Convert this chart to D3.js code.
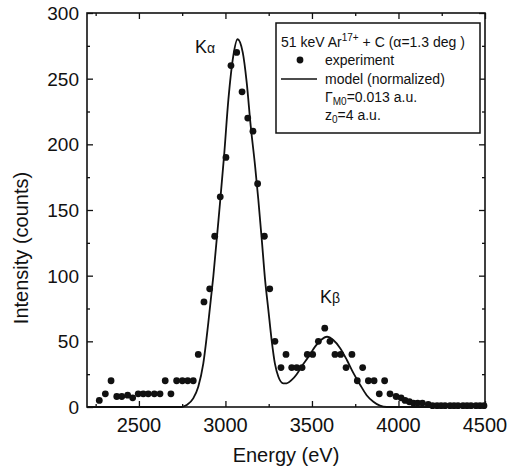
<!DOCTYPE html>
<html>
<head>
<meta charset="utf-8">
<script src="https://cdn.jsdelivr.net/npm/d3@7"></script>
<style>
  body { margin: 0; background: #fff; }
  text { font-family: Arial, "Liberation Sans", sans-serif; fill: #111; }
</style>
</head>
<body>
<script>
// measured points (energy in eV, intensity in counts)
var expEnergy = [2271, 2306, 2339, 2372, 2401, 2435, 2464, 2496, 2525, 2554, 2589, 2622, 2652, 2685, 2718, 2751, 2782, 2814, 2843,
  2876, 2909, 2938, 2970, 3003, 3032, 3065, 3096, 3129, 3159, 3186, 3225, 3256, 3286, 3321, 3350, 3383, 3412, 3443, 3473,
  3504, 3537, 3574, 3604, 3633, 3666, 3697, 3731, 3762, 3793, 3826, 3859, 3889, 3920, 3951,
  3986, 4015, 4038, 4063, 4086, 4111, 4138, 4172, 4197, 4223, 4246, 4269, 4298, 4321, 4344, 4373, 4396, 4419, 4448, 4471, 4494];
var expCounts = [5, 10, 20, 8, 8, 9, 7, 10, 10, 10, 10, 10, 20, 10, 20, 20, 20, 20, 40,
  80, 90, 130, 160, 190, 260, 270, 240, 220, 210, 170, 130, 90, 50, 30, 40, 30, 30, 30, 40,
  40, 50, 60, 50, 40, 40, 30, 40, 20, 30, 20, 20, 10, 20, 10,
  8, 7, 5, 4, 3, 3, 3, 2, 1, 1, 1, 1, 1, 1, 1, 1, 1, 1, 1, 1, 1];

// model curve
var modelEnergy = [2200, 2700, 2747, 2776, 2814, 2843, 2872, 2901, 2930, 2965, 2992, 3017, 3045, 3070, 3100, 3123, 3146, 3171,
  3190, 3210, 3229, 3248, 3267, 3286, 3306, 3334, 3354, 3383, 3412, 3441, 3479, 3518, 3552, 3587, 3623, 3662,
  3701, 3739, 3778, 3816, 3855, 3893, 3932, 4500];
var modelCounts = [0, 0, 0, 1.5, 6.6, 15.5, 33, 64, 99.5, 150, 191, 234, 267, 280, 270, 247, 214, 184,
  158, 127.5, 97, 74, 51, 33, 23, 18, 18, 20.6, 25, 31, 38, 46, 51, 53.5, 51, 45,
  36, 26, 17, 9, 4, 1, 0, 0];

var xTicks = [2500, 3000, 3500, 4000, 4500];
var xMinor = [2250, 2750, 3250, 3750, 4250];
var yTicks = [0, 50, 100, 150, 200, 250, 300];
var yMinor = [25, 75, 125, 175, 225, 275];

function drawChart() {
  var size = { width: 510, height: 472 };
  var margin = { top: 13, right: 25, bottom: 65, left: 87 };

  var svg = d3.select("body").append("svg")
    .attr("width", size.width)
    .attr("height", size.height);

  var x = d3.scaleLinear().domain([2200, 4500]).range([margin.left, size.width - margin.right]);
  var y = d3.scaleLinear().domain([0, 300]).range([size.height - margin.bottom, margin.top]);

  var x0 = x.range()[0], x1 = x.range()[1], y0 = y.range()[0], y1 = y.range()[1];

  // ticks on all four sides, pointing inward
  function addAxis(axis, tx, ty, vals, len) {
    svg.append("g")
      .attr("transform", "translate(" + tx + "," + ty + ")")
      .call(axis.tickValues(vals).tickSize(len).tickFormat(""))
      .call(function(g) { g.select(".domain").remove(); })
      .selectAll("line").attr("stroke", "#111").attr("stroke-width", 1.3);
  }
  addAxis(d3.axisTop(x), 0, y0, xTicks, 6);
  addAxis(d3.axisTop(x), 0, y0, xMinor, 3);
  addAxis(d3.axisBottom(x), 0, y1, xTicks, 6);
  addAxis(d3.axisBottom(x), 0, y1, xMinor, 3);
  addAxis(d3.axisRight(y), x0, 0, yTicks, 6);
  addAxis(d3.axisRight(y), x0, 0, yMinor, 3);
  addAxis(d3.axisLeft(y), x1, 0, yTicks, 6);
  addAxis(d3.axisLeft(y), x1, 0, yMinor, 3);

  // tick labels
  svg.append("g").selectAll("text")
    .data(xTicks).enter().append("text")
    .attr("x", function(d) { return x(d); })
    .attr("y", y0 + 25)
    .attr("text-anchor", "middle")
    .style("font-size", "20px")
    .text(function(d) { return d; });

  svg.append("g").selectAll("text")
    .data(yTicks).enter().append("text")
    .attr("x", x0 - 8)
    .attr("y", function(d) { return y(d) + 7; })
    .attr("text-anchor", "end")
    .style("font-size", "19px")
    .text(function(d) { return d; });

  // axis titles
  svg.append("text")
    .attr("x", (x0 + x1) / 2)
    .attr("y", 462)
    .attr("text-anchor", "middle")
    .style("font-size", "20px")
    .text("Energy (eV)");

  svg.append("text")
    .attr("transform", "translate(28,248) rotate(-90)")
    .attr("text-anchor", "middle")
    .style("font-size", "20px")
    .text("Intensity (counts)");

  // model line
  var line = d3.line()
    .x(function(d) { return x(d[0]); })
    .y(function(d) { return y(d[1]); })
    .curve(d3.curveMonotoneX);

  svg.append("path")
    .datum(d3.zip(modelEnergy, modelCounts))
    .attr("d", line)
    .attr("fill", "none")
    .attr("stroke", "#111")
    .attr("stroke-width", 1.8);

  // experimental dots
  svg.append("g").selectAll("circle")
    .data(d3.zip(expEnergy, expCounts))
    .enter().append("circle")
    .attr("cx", function(d) { return x(d[0]); })
    .attr("cy", function(d) { return y(d[1]); })
    .attr("r", 3.4)
    .attr("fill", "#111");

  // frame
  svg.append("rect")
    .attr("x", x0).attr("y", y1)
    .attr("width", x1 - x0).attr("height", y0 - y1)
    .attr("fill", "none")
    .attr("stroke", "#111")
    .attr("stroke-width", 1.6);

  // peak labels
  var ka = svg.append("text").attr("x", 195).attr("y", 53).style("font-size", "18px");
  ka.append("tspan").text("K");
  ka.append("tspan").style("font-size", "14px").text("\u03b1");
  var kb = svg.append("text").attr("x", 320).attr("y", 303).style("font-size", "18px");
  kb.append("tspan").text("K");
  kb.append("tspan").style("font-size", "14px").text("\u03b2");

  // legend box
  var lg = svg.append("g");
  lg.append("rect")
    .attr("x", 276).attr("y", 23)
    .attr("width", 204).attr("height", 110)
    .attr("fill", "#fff")
    .attr("stroke", "#111")
    .attr("stroke-width", 1.5);

  var fs = "14px";
  var t1 = lg.append("text").attr("x", 281).attr("y", 47).style("font-size", fs);
  t1.append("tspan").text("51 keV Ar");
  t1.append("tspan").attr("dy", -6).style("font-size", "10px").text("17+");
  t1.append("tspan").attr("dy", 6).text(" + C (\u03b1=1.3 deg  )");

  lg.append("circle").attr("cx", 300).attr("cy", 60).attr("r", 3.4).attr("fill", "#111");
  lg.append("text").attr("x", 325).attr("y", 65).style("font-size", fs).text("experiment");

  lg.append("line")
    .attr("x1", 281).attr("x2", 317).attr("y1", 79).attr("y2", 79)
    .attr("stroke", "#111").attr("stroke-width", 1.5);
  lg.append("text").attr("x", 325).attr("y", 84).style("font-size", fs).text("model (normalized)");

  var t3 = lg.append("text").attr("x", 325).attr("y", 102).style("font-size", fs);
  t3.append("tspan").text("\u0393");
  t3.append("tspan").attr("dy", 3).style("font-size", "10px").text("M0");
  t3.append("tspan").attr("dy", -3).text("=0.013 a.u.");

  var t4 = lg.append("text").attr("x", 325).attr("y", 120).style("font-size", fs);
  t4.append("tspan").text("z");
  t4.append("tspan").attr("dy", 3).style("font-size", "10px").text("0");
  t4.append("tspan").attr("dy", -3).text("=4 a.u.");
}

drawChart();
</script>
</body>
</html>
